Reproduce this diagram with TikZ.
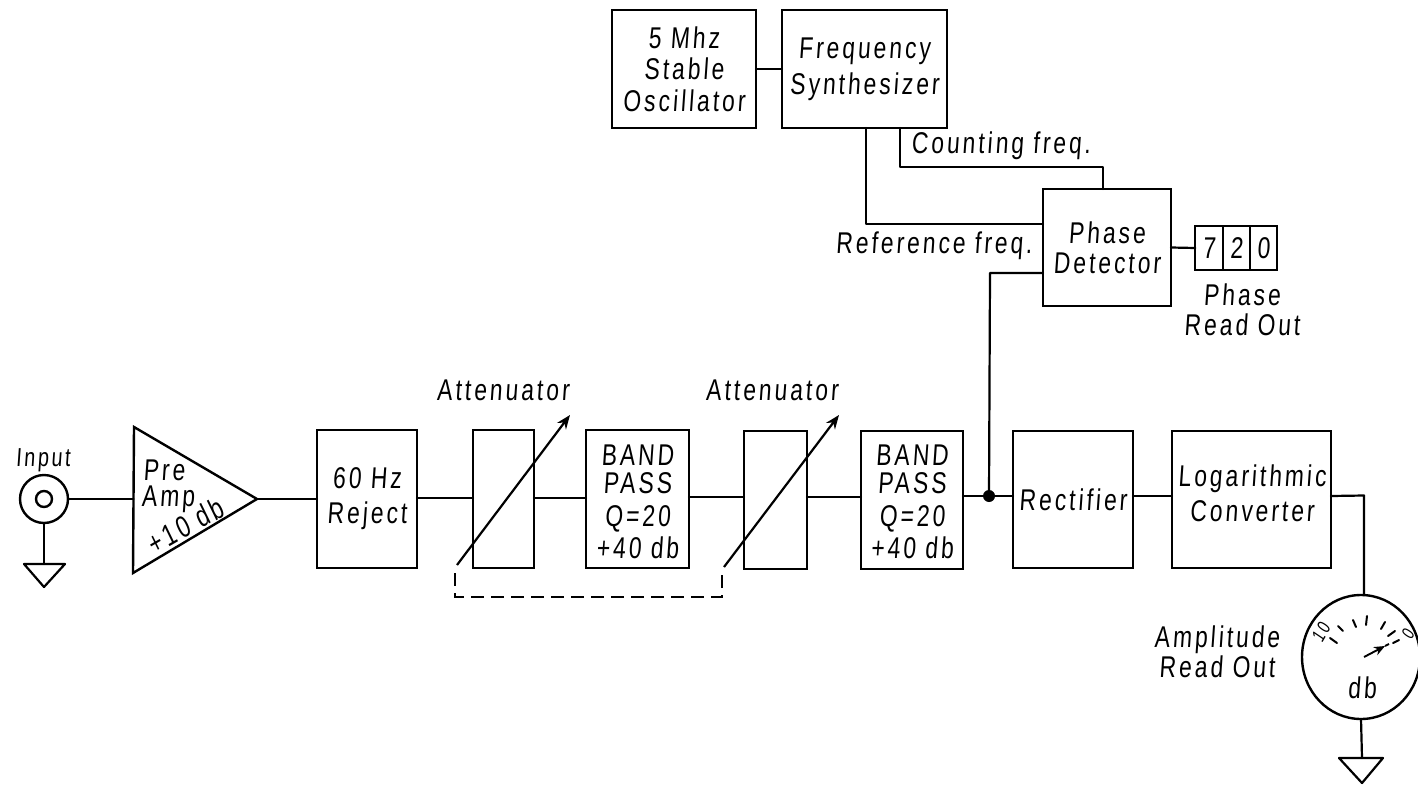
\documentclass[tikz,border=0pt]{standalone}
\usepackage{fontspec}
\setmainfont[FakeStretch=0.76,FakeSlant=0.07,LetterSpace=10]{Liberation Sans}
\usetikzlibrary{arrows.meta,shapes.geometric}
\tikzset{
  wire/.style={line width=2.2pt,line cap=round,line join=round},
  blk/.style={draw,line width=2.4pt,rectangle,inner sep=0pt,outer sep=0pt,align=center},
  lbl/.style={inner sep=0pt,outer sep=0pt,align=center},
  gnd/.style={line width=2.2pt,line join=round},
  tick/.style={line width=2pt,line cap=round},
  adj/.style={line width=2.2pt,-{Stealth[length=14pt,width=11pt]}},
  link/.style={line width=1.9pt,dash pattern=on 13pt off 7pt}
}
\newcommand{\bx}[7]{\node[blk,minimum width=#3pt,minimum height=#4pt] (#5) at (#1,#2) {#6};}
\begin{document}
\begin{tikzpicture}[x=1pt,y=-1pt,font=\fontsize{30}{30}\selectfont]
\useasboundingbox (0,0) rectangle (1418,784);
% top row
\bx{684}{69}{144}{118}{osc}{5 Mhz\\[1pt]Stable\\[2pt]Oscillator}{}
\bx{864.5}{69}{165}{118}{syn}{Frequency\\[6pt]Synthesizer}{}
\bx{1107}{247.5}{128}{117}{det}{Phase\\Detector}{}
\draw[wire] (osc.east) -- (syn.west);
\coordinate (rc) at (866,224);
\coordinate (cc) at (900,167);
\coordinate (cd) at (1103,167);
\draw[wire] (rc |- syn.south) -- (rc) -- (rc -| det.west);
\draw[wire] (cc |- syn.south) -- (cc) -- (cd) -- (cd |- det.north);
\node[lbl] (lc) at (1001,146) {Counting freq.};
\node[lbl] (lr) at (934,246) {Reference freq.};
% readout
\bx{1209}{248}{27.5}{44}{d1}{7}{}
\bx{1236.5}{248}{27.5}{44}{d2}{2}{}
\bx{1263.5}{248}{27}{44}{d3}{0}{}
\draw[wire] (det.east) -- (d1.west);
\node[lbl] (lp) at (1242,310) {Phase\\Read Out};
% main row
\node[draw,circle,line width=2.4pt,minimum size=48pt,inner sep=0pt,outer sep=0pt] (inp) at (44,499) {};
\node[draw,circle,line width=2.4pt,minimum size=16pt,inner sep=0pt,outer sep=0pt] (inpc) at (44,499) {};
\node[lbl] (linp) at (43,460) {\fontsize{26}{26}\selectfont Input};
\coordinate (g1) at (44,564);
\coordinate (g1a) at (24,564);
\coordinate (g1b) at (65,564);
\coordinate (g1c) at (44,587);
\draw[wire] (inp.south) -- (g1);
\draw[gnd] (g1a) -- (g1b) -- (g1c) -- cycle;
\coordinate (a1) at (134,427);
\coordinate (a2) at (133,573);
\coordinate (a3) at (257,499);
\draw[blk] (a1) -- (a3) -- (a2) -- cycle;
\draw[wire] (inp.east) -- (133.5,499);
\node[lbl] (lpre) at (164,470) {Pre};
\node[lbl] (lamp) at (168,499) {Amp};
\node[lbl,rotate=30] (lgain) at (185,526) {+10 db};
\bx{367}{499}{100}{138}{rej}{60 Hz\\[5pt]Reject}{}
\bx{503.5}{499}{61}{138}{att1}{}{}
\bx{637.5}{499}{103}{138}{bp1}{}{}
\node[lbl] (lbp1) at (637.5,502) {BAND\\[-2pt]PASS\\[3pt]Q=20\\[2pt]+40 db};
\bx{775.5}{500}{63}{138}{att2}{}{}
\bx{912}{500}{102}{138}{bp2}{}{}
\node[lbl] (lbp2) at (912,502) {BAND\\[-2pt]PASS\\[3pt]Q=20\\[2pt]+40 db};
\bx{1073}{499.5}{120}{137}{rec}{Rectifier}{}
\bx{1251.5}{499.5}{159}{137}{log}{}{}
\node[lbl] (llog) at (1252,493) {Logarithmic\\[5pt]Converter};
\draw[wire] (a3) -- (rej.west);
\draw[wire] ([yshift=1pt]rej.east) -- ([yshift=1pt]att1.west);
\draw[wire] ([yshift=1pt]att1.east) -- ([yshift=1pt]bp1.west);
\draw[wire] ([yshift=2pt]bp1.east) -- ([yshift=3pt]att2.west);
\draw[wire] ([yshift=3pt]att2.east) -- ([yshift=3pt]bp2.west);
\coordinate (jn) at (989,496);
\draw[wire] ([yshift=4pt]bp2.east) -- ([yshift=3.5pt]rec.west);
\draw[wire] ([yshift=3.5pt]rec.east) -- ([yshift=3.5pt]log.west);
\fill (jn) circle (6pt);
\coordinate (jt) at (990,273);
\draw[wire] (jn) -- (jt) -- (jt -| det.west);
% attenuators
\coordinate (p1) at (457,565);
\coordinate (q1) at (570,415);
\coordinate (p2) at (724,567);
\coordinate (q2) at (839,415);
\draw[adj] (p1) -- (q1);
\draw[adj] (p2) -- (q2);
\coordinate (l1) at (455,573);
\coordinate (l2) at (455,597);
\coordinate (l3) at (722,597);
\coordinate (l4) at (722,570);
\draw[link] (l1) -- (l2) -- (l3) -- (l4);
\node[lbl] (la1) at (503,390) {Attenuator};
\node[lbl] (la2) at (772,390) {Attenuator};
% meter
\node[draw,ellipse,line width=2.4pt,minimum width=118pt,minimum height=124pt,inner sep=0pt,outer sep=0pt] (met) at (1361,657) {};
\coordinate (oc) at (1364,495.5);
\draw[wire] ([yshift=3.5pt]log.east) -- (oc) -- (oc |- met.north);
\node[lbl,rotate=60] (t10) at (1321,632) {\fontsize{19}{19}\selectfont 10};
\node[lbl,rotate=60] (t0) at (1408,634) {\fontsize{18}{18}\selectfont 0};
\draw[tick] (1330,638) -- (1337,643);
\draw[tick] (1338,626) -- (1343,631);
\draw[tick] (1353,620) -- (1356,627);
\draw[tick] (1367,616) -- (1366,625);
\draw[tick] (1385,622) -- (1381,629);
\draw[tick] (1395,631) -- (1388,636);
\draw[tick] (1399,640) -- (1393,643);
\coordinate (n1) at (1364,657);
\coordinate (n2) at (1385,646);
\coordinate (n3) at (1389,644);
\draw[line width=1.9pt,-{Stealth[length=11pt,width=9pt]}] (n1) -- (n2);
\draw[line width=1.9pt] (n2) -- (n3);
\node[lbl] (ldb) at (1362,688) {db};
\node[lbl] (lal) at (1217,652) {Amplitude\\Read Out};
\coordinate (g2) at (1362,758);
\coordinate (g2a) at (1339,758);
\coordinate (g2b) at (1383,758);
\coordinate (g2c) at (1362,783);
\draw[wire] (met.south) -- (g2);
\draw[gnd] (g2a) -- (g2b) -- (g2c) -- cycle;
\end{tikzpicture}
\end{document}
